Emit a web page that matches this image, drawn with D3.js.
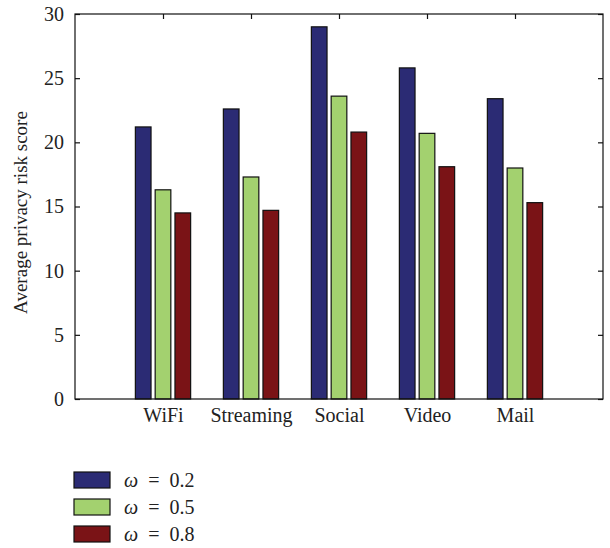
<!DOCTYPE html>
<html>
<head>
<meta charset="utf-8">
<script src="https://cdn.jsdelivr.net/npm/d3@7"></script>
<style>
  body { margin: 0; background: #fff; }
  svg text { font-family: "Liberation Serif", "DejaVu Serif", serif; fill: #222; }
</style>
</head>
<body>
<div id="chart"></div>
<script>
// category labels and series values
const categories = ["WiFi", "Streaming", "Social", "Video", "Mail"];
const seriesNames = ["0.2", "0.5", "0.8"];
const w02 = [21.2, 22.6, 29.0, 25.8, 23.4];
const w05 = [16.3, 17.3, 23.6, 20.7, 18.0];
const w08 = [14.5, 14.7, 20.8, 18.1, 15.3];
const yTicks = [0, 5, 10, 15, 20, 25, 30];

const seriesValues = [w02, w05, w08];
const colors = ["#2b2b74", "#a3d16f", "#7a1316"];

const width = 610, height = 548;
const M = { top: 14, right: 7, bottom: 149, left: 75 };
const innerW = width - M.left - M.right;
const innerH = height - M.top - M.bottom;

const svg = d3.select("#chart").append("svg")
  .attr("width", width).attr("height", height);
const g = svg.append("g").attr("transform", `translate(${M.left},${M.top})`);

// x positions like matlab bar(): categories at 1..5, xlim [0, 6]
const x = d3.scaleLinear().domain([0, 6]).range([0, innerW]);
const y = d3.scaleLinear().domain([0, 30]).range([innerH, 0]);
const step = x(1) - x(0);
const barW = step * 0.178;
const offsets = [-0.225, 0, 0.225];

// bars
seriesValues.forEach((vals, si) => {
  g.append("g").selectAll("rect")
    .data(vals)
    .join("rect")
    .attr("x", (d, i) => x(i + 1 + offsets[si]) - barW / 2)
    .attr("y", (d) => y(d))
    .attr("width", barW)
    .attr("height", (d) => y(0) - y(d))
    .attr("fill", colors[si])
    .attr("stroke", "#111")
    .attr("stroke-width", 1.2);
});

// frame
g.append("rect").attr("width", innerW).attr("height", innerH)
  .attr("fill", "none").attr("stroke", "#111").attr("stroke-width", 1.2);

// left axis, ticks inward
const yAx = g.append("g").call(d3.axisLeft(y).tickValues(yTicks).tickSize(-5).tickPadding(11));
yAx.select(".domain").remove();
yAx.selectAll("text").attr("font-size", 20).attr("fill", "#222");
yAx.selectAll("line").attr("stroke", "#111").attr("stroke-width", 1.2);

// right axis ticks (no labels)
const yAxR = g.append("g").attr("transform", `translate(${innerW},0)`)
  .call(d3.axisRight(y).tickValues(yTicks).tickSize(-5).tickFormat(""));
yAxR.select(".domain").remove();
yAxR.selectAll("line").attr("stroke", "#111").attr("stroke-width", 1.2);

// bottom labels
const xAx = g.append("g").attr("transform", `translate(0,${innerH})`)
  .call(d3.axisBottom(x).tickValues([1, 2, 3, 4, 5]).tickSize(0).tickPadding(9)
    .tickFormat((d) => categories[d - 1]));
xAx.select(".domain").remove();
xAx.selectAll("text").attr("font-size", 20).attr("fill", "#222");

// top ticks, inward
const xAxT = g.append("g")
  .call(d3.axisTop(x).tickValues([1, 2, 3, 4, 5]).tickSize(-5).tickFormat(""));
xAxT.select(".domain").remove();
xAxT.selectAll("line").attr("stroke", "#111").attr("stroke-width", 1.2);

// y label
svg.append("text")
  .attr("transform", `translate(27,${M.top + innerH / 2 + 6}) rotate(-90)`)
  .attr("text-anchor", "middle")
  .attr("font-size", 19)
  .text("Average privacy risk score");

// legend
const leg = svg.append("g").attr("transform", "translate(74,472)");
const item = leg.selectAll("g").data(seriesNames).join("g")
  .attr("transform", (d, i) => `translate(0,${i * 27})`);
item.append("rect").attr("width", 36).attr("height", 16)
  .attr("fill", (d, i) => colors[i]).attr("stroke", "#111").attr("stroke-width", 1.2);
const t = item.append("text").attr("x", 50).attr("y", 15).attr("font-size", 20)
  .attr("xml:space", "preserve");
t.append("tspan").attr("font-style", "italic").text("\u03c9");
t.append("tspan").text((d) => "  =  " + d);
</script>
</body>
</html>
